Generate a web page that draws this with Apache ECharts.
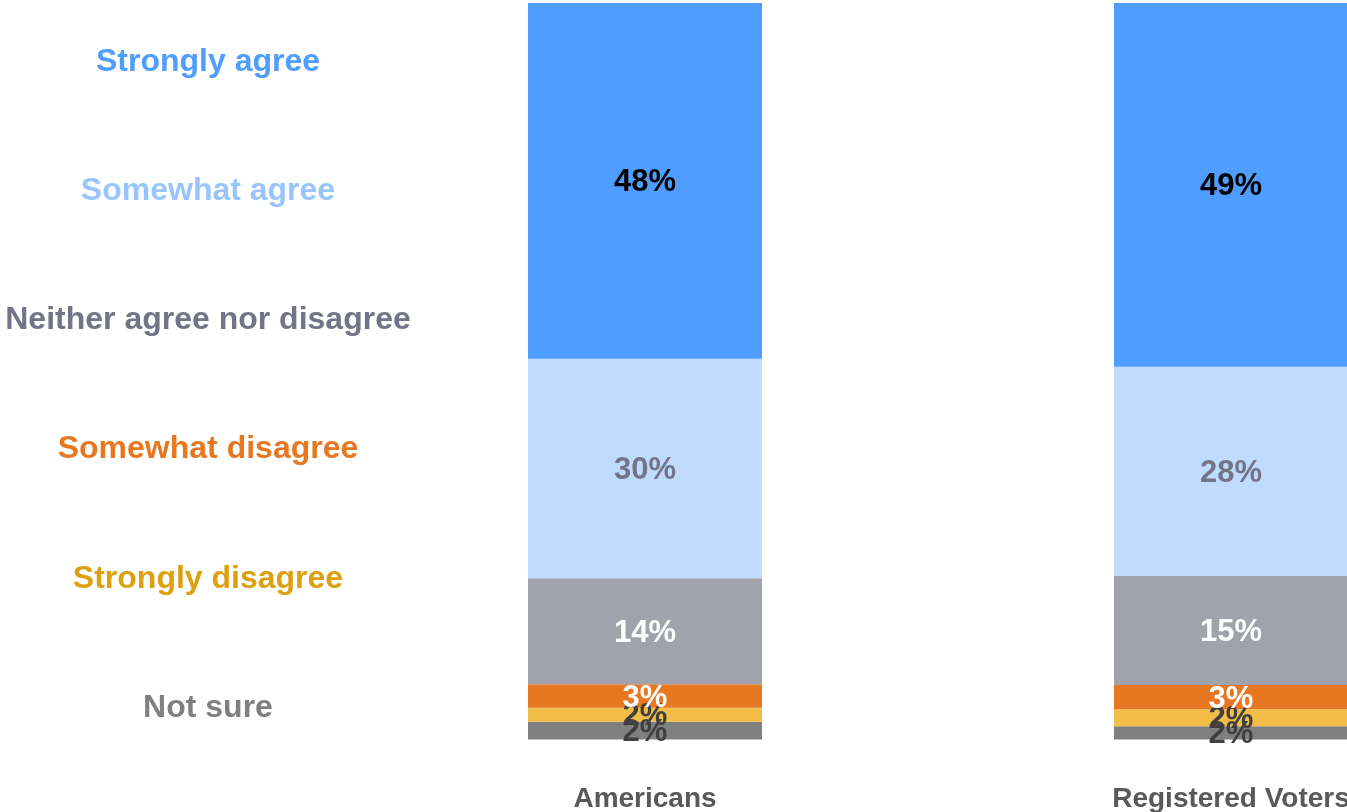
<!DOCTYPE html>
<html>
<head>
<meta charset="utf-8">
<script src="https://cdn.jsdelivr.net/npm/echarts@6/dist/echarts.min.js"></script>
<style>
html,body{margin:0;padding:0;background:#fff;}
#chart{width:1347px;height:812px;}
</style>
</head>
<body>
<div id="chart"></div>
<script>
// ---- data (percent; labels show rounded values) ----
const categories = ['Americans', 'Registered Voters'];
const seriesNames = ['Strongly agree', 'Somewhat agree', 'Neither agree nor disagree', 'Somewhat disagree', 'Strongly disagree', 'Not sure'];
const stronglyAgree = [48.3, 49.4];
const somewhatAgree = [29.8, 28.4];
const neither = [14.4, 14.8];
const somewhatDisagree = [3.2, 3.3];
const stronglyDisagree = [1.9, 2.3];
const notSure = [2.4, 1.8];

// ---- styles ----
const barColors = ['#4F9DFF', '#BFDBFF', '#A1A3AC', '#E87722', '#F2BE48', '#808080'];
const legendColors = ['#4F9DFF', '#99C5FF', '#737587', '#E87722', '#DCA010', '#808080'];
const labelColors = ['#000000', '#737585', '#FFFFFF', '#FFFFFF', '#404040', '#404040'];
const values = [stronglyAgree, somewhatAgree, neither, somewhatDisagree, stronglyDisagree, notSure];
const font = '"Liberation Sans", Arial, Helvetica, sans-serif';

const chart = echarts.init(document.getElementById('chart'), null, {renderer: 'canvas'});

// stack from bottom: Not sure first, Strongly agree last (top)
const order = [5, 4, 3, 2, 1, 0];
const series = order.map(i => ({
  name: seriesNames[i],
  type: 'bar',
  stack: 'total',
  barWidth: 234,
  data: values[i],
  itemStyle: {color: barColors[i]},
  label: {
    show: true,
    position: 'inside',
    offset: [0, 2],
    formatter: p => Math.round(p.value) + '%',
    color: labelColors[i],
    fontFamily: font,
    fontWeight: 'bold',
    fontSize: 31
  },
  emphasis: {disabled: true}
}));

const graphic = seriesNames.map((n, i) => ({
  type: 'text',
  x: 208,
  y: 62 + i * 129.2,
  style: {
    text: n,
    fill: legendColors[i],
    font: 'bold 32px ' + font,
    textAlign: 'center',
    textVerticalAlign: 'middle'
  }
}));

chart.setOption({
  animation: false,
  backgroundColor: '#ffffff',
  grid: {left: 352, top: 3, bottom: 72.5, width: 1172, outerBoundsMode: 'none', containLabel: false},
  xAxis: {
    type: 'category',
    data: categories,
    axisLine: {show: false},
    axisTick: {show: false},
    axisLabel: {
      color: '#595959',
      fontFamily: font,
      fontWeight: 'bold',
      fontSize: 28,
      margin: 46
    }
  },
  yAxis: {
    type: 'value',
    min: 0,
    max: 100,
    show: false,
    splitLine: {show: false}
  },
  graphic: graphic,
  series: series
});
</script>
</body>
</html>
